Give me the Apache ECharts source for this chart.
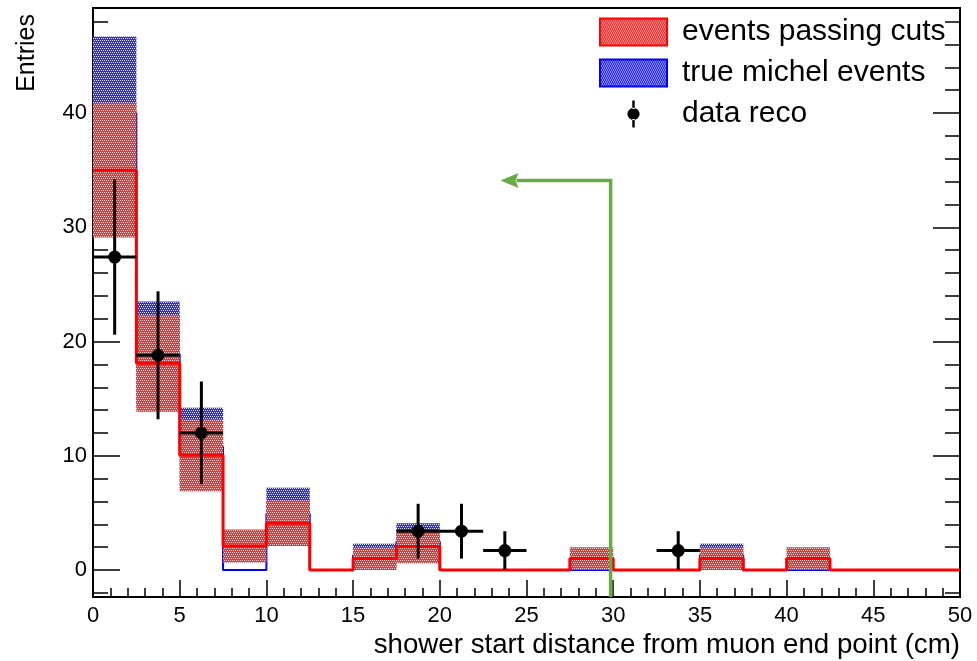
<!DOCTYPE html>
<html>
<head>
<meta charset="utf-8">
<script src="https://cdn.jsdelivr.net/npm/echarts@6/dist/echarts.min.js"></script>
<style>
  html, body { margin: 0; padding: 0; background: #fff; }
  #chart { width: 977px; height: 661px; }
</style>
</head>
<body>
<div id="chart"></div>
<script>
// Bin edges (cm), 2.5 cm bins
const binLow  = [0, 2.5, 5, 7.5, 10, 12.5, 15, 17.5, 20, 22.5, 25, 27.5, 30, 32.5, 35, 37.5, 40, 42.5, 45, 47.5];
const binHigh = [2.5, 5, 7.5, 10, 12.5, 15, 17.5, 20, 22.5, 25, 27.5, 30, 32.5, 35, 37.5, 40, 42.5, 45, 47.5, 50];

// Events passing cuts (red) and their uncertainties
const passingCuts    = [35.0, 18.1, 10.05, 2.1, 4.1, 0, 1.0, 2.05, 0, 0, 0, 1.0, 0, 0, 1.0, 0, 1.0, 0, 0, 0];
const passingCutsErr = [5.9, 4.25, 3.15, 1.45, 2.0, 0, 1.0, 1.45, 0, 0, 0, 1.0, 0, 0, 1.0, 0, 1.0, 0, 0, 0];

// True michel events (blue) and their uncertainties
const trueMichel    = [40.0, 18.9, 10.8, 0, 4.9, 0, 1.3, 2.5, 0, 0, 0, 0, 0, 0, 1.3, 0, 0, 0, 0, 0];
const trueMichelErr = [6.7, 4.6, 3.4, 0, 2.3, 0, 1.0, 1.6, 0, 0, 0, 0, 0, 0, 1.0, 0, 0, 0, 0, 0];

// Reconstructed data points
const dataX    = [1.25, 3.75, 6.25, 18.75, 21.25, 23.75, 33.75];
const dataY    = [27.4, 18.8, 12.0, 3.4, 3.4, 1.7, 1.7];
const dataYErr = [6.8, 5.6, 4.5, 2.4, 2.4, 1.7, 1.7];
const dataXErr = [1.25, 1.25, 1.25, 1.25, 1.25, 1.25, 1.25];

// Selection cut arrow
const cutValue   = 29.85;
const arrowLevel = 34.1;
const arrowTip   = 23.5;

// Axis ranges and ticks
const xMin = 0, xMax = 50;
const yMin = -2.36, yMax = 49.2;
const yMajorTicks = [0, 10, 20, 30, 40];
const yMinorTicks = [-2, 2, 4, 6, 8, 12, 14, 16, 18, 22, 24, 26, 28, 32, 34, 36, 38, 42, 44, 46, 48];

const FONT = "'Liberation Sans', Arial, Helvetica, sans-serif";
const GREEN = '#68ab45';

// Dotted fill used for the uncertainty bands
function dotted(color, light) {
  const c = document.createElement('canvas');
  c.width = 4; c.height = 4;
  const g = c.getContext('2d');
  g.fillStyle = color; g.fillRect(0, 0, 4, 4);
  g.fillStyle = light;
  [[0, 0], [2, 0], [1, 2], [3, 2]].forEach(([x, y]) => g.fillRect(x, y, 1, 1));
  return { image: c, repeat: 'repeat' };
}
const redFill = dotted('#ff2a2a', '#ffe4e4');
const blueFill = dotted('#2a2aff', '#e4e4ff');

function bandData(vals, errs) {
  const out = [];
  vals.forEach((v, i) => {
    if (errs[i] > 0) out.push([binLow[i], binHigh[i], v - errs[i], v + errs[i]]);
  });
  return out;
}
function stepData(vals) {
  const out = vals.map((v, i) => [binLow[i], v]);
  out.push([binHigh[binHigh.length - 1], vals[vals.length - 1]]);
  return out;
}
function bandRenderer(fill) {
  return function (params, api) {
    const p0 = api.coord([api.value(0), api.value(3)]);
    const p1 = api.coord([api.value(1), api.value(2)]);
    return {
      type: 'rect',
      shape: { x: p0[0], y: p0[1], width: p1[0] - p0[0], height: p1[1] - p0[1] },
      style: { fill: fill }
    };
  };
}
function pointRenderer(params, api) {
  const x = api.value(0), y = api.value(1), ey = api.value(2), ex = api.value(3);
  const c = api.coord([x, y]);
  const l = api.coord([x - ex, y]), r = api.coord([x + ex, y]);
  const t = api.coord([x, y + ey]), b = api.coord([x, y - ey]);
  return {
    type: 'group',
    children: [
      { type: 'line', shape: { x1: l[0], y1: c[1], x2: r[0], y2: c[1] }, style: { stroke: '#000', lineWidth: 3 } },
      { type: 'line', shape: { x1: c[0], y1: t[1], x2: c[0], y2: b[1] }, style: { stroke: '#000', lineWidth: 3 } },
      { type: 'circle', shape: { cx: c[0], cy: c[1], r: 6.5 }, style: { fill: '#000' } }
    ]
  };
}
function arrowRenderer(params, api) {
  const base = api.coord([api.value(0), yMin]);
  const corner = api.coord([api.value(0), api.value(1)]);
  const tip = api.coord([api.value(2), api.value(1)]);
  const headLen = 18, headHalf = 7.5;
  return {
    type: 'group',
    children: [
      { type: 'polyline', shape: { points: [base, corner, [tip[0] + headLen - 2, tip[1]]] },
        style: { stroke: GREEN, lineWidth: 3.5, fill: null } },
      { type: 'polygon', shape: { points: [[tip[0], tip[1]], [tip[0] + headLen, tip[1] - headHalf], [tip[0] + headLen - 3, tip[1]], [tip[0] + headLen, tip[1] + headHalf]] },
        style: { fill: GREEN } }
    ]
  };
}

function yAxisDef(position, ticks, len, showLabels) {
  return {
    type: 'value', position: position, min: yMin, max: yMax, offset: 0,
    axisLine: { show: false, onZero: false },
    splitLine: { show: false },
    axisTick: { show: true, inside: true, length: len, customValues: ticks, lineStyle: { color: '#000', width: 1.5 } },
    axisLabel: showLabels
      ? { show: true, customValues: ticks, margin: 6, color: '#000', fontFamily: FONT, fontSize: 22 }
      : { show: false }
  };
}

const chart = echarts.init(document.getElementById('chart'), null, { renderer: 'canvas' });
chart.setOption({
  animation: false,
  backgroundColor: '#fff',
  grid: {
    left: 93, right: 17, top: 8, bottom: 64,
    containLabel: false, outerBoundsMode: 'none',
    show: true, borderColor: '#000', borderWidth: 2, backgroundColor: 'transparent'
  },
  xAxis: {
    type: 'value', min: xMin, max: xMax, interval: 5,
    axisLine: { show: false, onZero: false },
    splitLine: { show: false },
    axisTick: { show: true, inside: true, length: 17, lineStyle: { color: '#000', width: 1.5 } },
    minorTick: { show: true, splitNumber: 5, length: 9, lineStyle: { color: '#000', width: 1.5 } },
    axisLabel: { color: '#000', fontFamily: FONT, fontSize: 22, margin: 8 }
  },
  yAxis: [
    yAxisDef('left', yMajorTicks, 27, true),
    yAxisDef('left', yMinorTicks, 15, false),
    yAxisDef('right', yMajorTicks, 27, false),
    yAxisDef('right', yMinorTicks, 15, false)
  ],
  legend: {
    orient: 'vertical', left: 594, top: 12,
    itemWidth: 67, itemHeight: 27, itemGap: 11,
    selectedMode: false,
    textStyle: { color: '#000', fontFamily: FONT, fontSize: 30, padding: [0, 0, 0, 10] },
    data: [
      { name: 'events passing cuts', icon: 'rect', itemStyle: { color: redFill, borderColor: '#ff0000', borderWidth: 2 } },
      { name: 'true michel events', icon: 'rect', itemStyle: { color: blueFill, borderColor: '#0000ff', borderWidth: 2 } },
      { name: 'data reco', icon: 'path://M4,0 L6,0 L6,7 L4,7 Z M4,15 L6,15 L6,22 L4,22 Z M0,11 A5,5 0 1 0 10,11 A5,5 0 1 0 0,11 Z', itemStyle: { color: '#000', borderWidth: 0 } }
    ]
  },
  graphic: [
    { type: 'text', x: 27, y: 14, rotation: Math.PI / 2,
      style: { text: 'Entries', fill: '#000', font: '25px ' + FONT, align: 'right', verticalAlign: 'middle' } },
    { type: 'text', right: 17, top: 631,
      style: { text: 'shower start distance from muon end point (cm)', fill: '#000', font: '27.7px ' + FONT } }
  ],
  series: [
    { name: 'true michel events', type: 'custom', z: 1, clip: true, renderItem: bandRenderer(blueFill),
      itemStyle: { color: blueFill }, data: bandData(trueMichel, trueMichelErr) },
    { name: 'true michel events', type: 'line', z: 2, step: 'end', showSymbol: false, symbol: 'none',
      lineStyle: { color: '#0000ff', width: 2 }, itemStyle: { color: '#0000ff' }, data: stepData(trueMichel) },
    { name: 'events passing cuts', type: 'custom', z: 3, clip: true, renderItem: bandRenderer(redFill),
      itemStyle: { color: redFill }, data: bandData(passingCuts, passingCutsErr) },
    { name: 'events passing cuts', type: 'line', z: 4, step: 'end', showSymbol: false, symbol: 'none',
      lineStyle: { color: '#ff0000', width: 3 }, itemStyle: { color: '#ff0000' }, data: stepData(passingCuts) },
    { name: 'data reco', type: 'custom', z: 5, clip: true, renderItem: pointRenderer,
      itemStyle: { color: '#000' },
      data: dataX.map((x, i) => [x, dataY[i], dataYErr[i], dataXErr[i]]) },
    { name: 'cut', type: 'custom', z: 6, clip: true, renderItem: arrowRenderer,
      data: [[cutValue, arrowLevel, arrowTip]] }
  ]
});
</script>
</body>
</html>
